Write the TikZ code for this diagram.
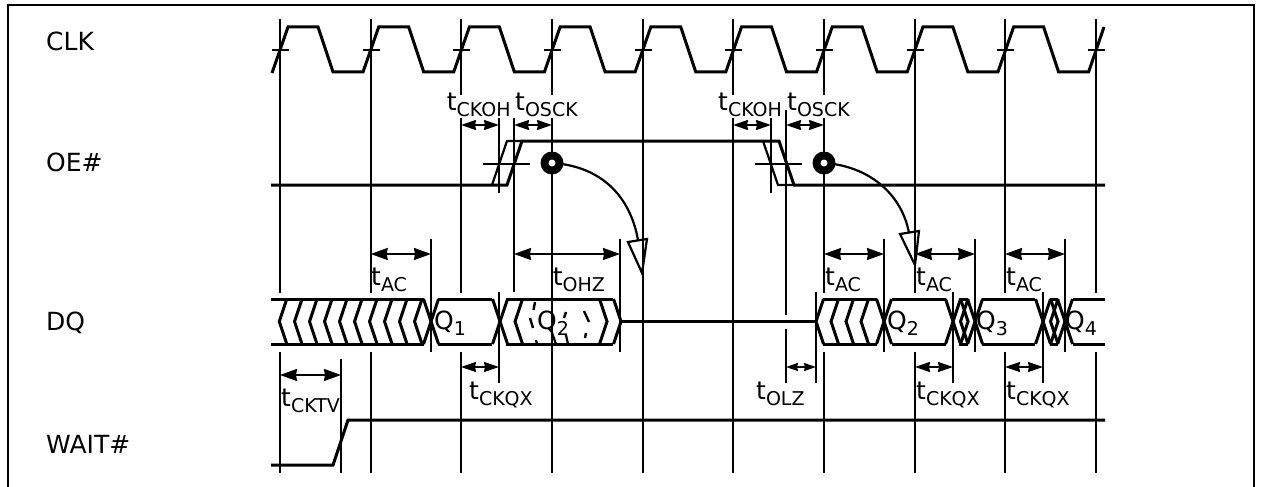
\documentclass[tikz,border=0pt]{standalone}
\usepackage{fontspec}
\setmainfont{DejaVu Sans}
\usetikzlibrary{arrows.meta}
\newcommand{\bigf}{\fontsize{25}{30}\selectfont}
\newcommand{\subf}{\fontsize{19}{22}\selectfont}
\newcommand{\Ts}[2]{#1\raisebox{-6pt}{\subf #2}}
\tikzset{
  x=1pt,y=-1pt,
  wave/.style={line width=3pt,line cap=butt,line join=miter,miter limit=3},
  guide/.style={line width=2.2pt},
  finer/.style={line width=1.8pt},
  lbl/.style={inner sep=0pt,anchor=base west,text=black,font=\bigf},
  bigdim/.style={line width=1.8pt,{Stealth[length=17pt,width=12pt,inset=1pt]}-{Stealth[length=17pt,width=12pt,inset=1pt]}},
  smalldim/.style={line width=1.8pt,{Stealth[length=15pt,width=10pt,inset=1pt]}-{Stealth[length=15pt,width=10pt,inset=1pt]}},
  tinydim/.style={line width=1.8pt,{Stealth[length=12pt,width=8pt,inset=1pt]}-{Stealth[length=12pt,width=8pt,inset=1pt]}},
  opentip/.style={line width=2.2pt,fill=white,line join=miter},
  curveline/.style={line width=2.2pt},
}
\begin{document}
\begin{tikzpicture}
\useasboundingbox (0,0) rectangle (1262,487);
% frame
\draw[line width=2.2pt] (8,487) -- (8,5) -- (1254,5) -- (1254,487);
% labels
\node[lbl] (clk) at (46,51) {CLK};
\node[lbl] (oe) at (46,171.5) {OE\#};
\node[lbl] (dq) at (46,330) {DQ};
\node[lbl] (wait) at (46,453) {WAIT\#};
% clock grid
\foreach \x/\a/\b in {280/19/293,370.7/19/293,915/19/293,1005/19/293,1096/19/293}{
  \draw[guide] (\x,\a) -- (\x,\b);
  \draw[guide] (\x,352) -- (\x,473);}
\draw[guide] (461,19) -- (461,95) (461,118) -- (461,293) (461,352) -- (461,473);
\draw[guide] (552,19) -- (552,95) (552,118) -- (552,473);
\draw[guide] (643,19) -- (643,473);
\draw[guide] (733,19) -- (733,95) (733,118) -- (733,473);
\draw[guide] (824,19) -- (824,95) (824,118) -- (824,293) (824,352) -- (824,473);
% timing verticals
\draw[finer] (499,118) -- (499,193) (514,118) -- (514,292)
  (771,118) -- (771,193) (786,110) -- (786,315) (786,329) -- (786,383)
  (431,239) -- (431,352) (620,239) -- (620,352) (884,239) -- (884,352)
  (975,239) -- (975,352) (1065,239) -- (1065,352)
  (499,292) -- (499,383) (953,292) -- (953,383) (1043,292) -- (1043,383)
  (816,292) -- (816,383) (341,359) -- (341,473);
% CLK
\draw[wave] (272,73)
  -- (288,27) -- (318,27) -- (333,72) -- (363,72)
  -- (378.7,27) -- (408.7,27) -- (423.7,72) -- (453.7,72)
  -- (469.4,27) -- (499.4,27) -- (514.4,72) -- (544.4,72)
  -- (560.1,27) -- (590.1,27) -- (605.1,72) -- (635.1,72)
  -- (650.8,27) -- (680.8,27) -- (695.8,72) -- (725.8,72)
  -- (741.5,27) -- (771.5,27) -- (786.5,72) -- (816.5,72)
  -- (832.2,27) -- (862.2,27) -- (877.2,72) -- (907.2,72)
  -- (922.9,27) -- (952.9,27) -- (967.9,72) -- (997.9,72)
  -- (1013.6,27) -- (1043.6,27) -- (1058.6,72) -- (1088.6,72)
  -- (1104,27);
\foreach \x in {280,370.7,461,552,643,733,824,915,1005,1096}
  \draw[finer] ({\x-8},50) -- ({\x+9},50);
% OE#
\draw[wave] (271,185) -- (507,185) -- (522,141) -- (779,141) -- (794,185) -- (1105,185);
\draw[wave,line width=2.2pt] (492,185) -- (507,141) -- (522,141);
\draw[wave,line width=2.2pt] (763,141) -- (778,185) -- (794,185);
\draw[finer] (483,164) -- (530,164) (755,164) -- (802,164);
% WAIT#
\draw[wave] (271,465) -- (333,465) -- (348,420) -- (1105,420);
% DQ rails
\def\T{299}\def\B{344}\def\M{321.5}
\draw[wave] (271,\T) -- (424,\T) (271,\B) -- (424,\B)
 (438,\T) -- (492,\T) (438,\B) -- (492,\B)
 (506,\T) -- (613,\T) (506,\B) -- (613,\B)
 (621,\M) -- (816,\M)
 (823,\T) -- (877,\T) (823,\B) -- (877,\B)
 (892,\T) -- (946,\T) (892,\B) -- (946,\B)
 (959,\T) -- (968,\T) (959,\B) -- (968,\B)
 (982,\T) -- (1035,\T) (982,\B) -- (1035,\B)
 (1050,\T) -- (1058,\T) (1050,\B) -- (1058,\B)
 (1073,\T) -- (1105,\T) (1073,\B) -- (1105,\B);
% chevrons "<" tip x
\foreach \x in {279.3,294.5,309.5,324.5,339.5,354.5,369.5,384.5,399.5,414.5,431,500,515,816,831,846,861,884,953,960.5,975,1043,1050.5,1065}
  \draw[wave] ({\x+7.5},\T) -- (\x,\M) -- ({\x+7.5},\B);
% chevrons ">" tip x
\foreach \x in {431,500,621,607,884,953,968,975,1043,1058,1065}
  \draw[wave] ({\x-7.5},\T) -- (\x,\M) -- ({\x-7.5},\B);
% broken chevrons behind Q2
\draw[wave,line width=2.4pt] (535,302) -- (533.5,310) (530,318) -- (533,328)
  (566,312) -- (564,318) (584,311) -- (589,322) (586,333) -- (585,338);
\draw[guide] (536,340) -- (537,344) (551,330) -- (556,344) (566,335) -- (568,344);
% data labels
\node[lbl] (q1) at (434,329) {\Ts{Q}{1}};
\node[lbl] (q2) at (537,329) {\Ts{Q}{2}};
\node[lbl] (q3) at (887,329) {\Ts{Q}{2}};
\node[lbl] (q4) at (976,329) {\Ts{Q}{3}};
\node[lbl] (q5) at (1065,329) {\Ts{Q}{4}};
% timing labels
\node[lbl] (ckoha) at (446.7,110.7) {\Ts{t}{CKOH}};
\node[lbl] (oscka) at (515,110.7) {\Ts{t}{OSCK}};
\node[lbl] (ckohb) at (718,110.7) {\Ts{t}{CKOH}};
\node[lbl] (osckb) at (787,110.7) {\Ts{t}{OSCK}};
\node[lbl] (aca) at (371,285) {\Ts{t}{AC}};
\node[lbl] (ohz) at (552.7,285) {\Ts{t}{OHZ}};
\node[lbl] (acb) at (825,285) {\Ts{t}{AC}};
\node[lbl] (acc) at (916,285) {\Ts{t}{AC}};
\node[lbl] (acd) at (1006,285) {\Ts{t}{AC}};
\node[lbl] (cktv) at (281,406) {\Ts{t}{CKTV}};
\node[lbl] (ckqxa) at (469,399) {\Ts{t}{CKQX}};
\node[lbl] (olz) at (756,399) {\Ts{t}{OLZ}};
\node[lbl] (ckqxb) at (916,399) {\Ts{t}{CKQX}};
\node[lbl] (ckqxc) at (1006,399) {\Ts{t}{CKQX}};
% dimension arrows
\foreach \n/\a/\b/\y in {p/370.7/431/254,q/514/620/254,r/824/884/254,s/915/975/254,u/1005/1065/254,v/280/341/375}{
  \coordinate (\n1) at (\a,\y); \coordinate (\n2) at (\b,\y);
  \draw[bigdim] (\n1) -- (\n2);}
\foreach \n/\a/\b/\y in {c/461/499/125,d/514/552/125,e/733/771/125,f/786/824/125,g/461/499/367,h/915/953/367,i/1005/1043/367}{
  \coordinate (\n1) at (\a,\y); \coordinate (\n2) at (\b,\y);
  \draw[smalldim] (\n1) -- (\n2);}
\coordinate (z1) at (786,367); \coordinate (z2) at (816,367);
\draw[tinydim] (z1) -- (z2);
% OE events
\coordinate (e1) at (552,163); \coordinate (e2) at (824,163);
\coordinate (h1) at (638,240); \coordinate (h2) at (909,233);
\draw[curveline] (e1) .. controls (600,166) and (630,195) .. (h1);
\draw[curveline] (e2) .. controls (870,166) and (902,195) .. (h2);
\draw[opentip] (628,242) -- (647,239) -- (642,273) -- cycle;
\draw[opentip] (900,234) -- (919,231) -- (915,265) -- cycle;
\draw[guide] (643,239) -- (643,273) (915,231) -- (915,265);
\fill (e1) circle (11.5); \fill[white] (e1) circle (3.5);
\fill (e2) circle (11.5); \fill[white] (e2) circle (3.5);
\end{tikzpicture}
\end{document}
